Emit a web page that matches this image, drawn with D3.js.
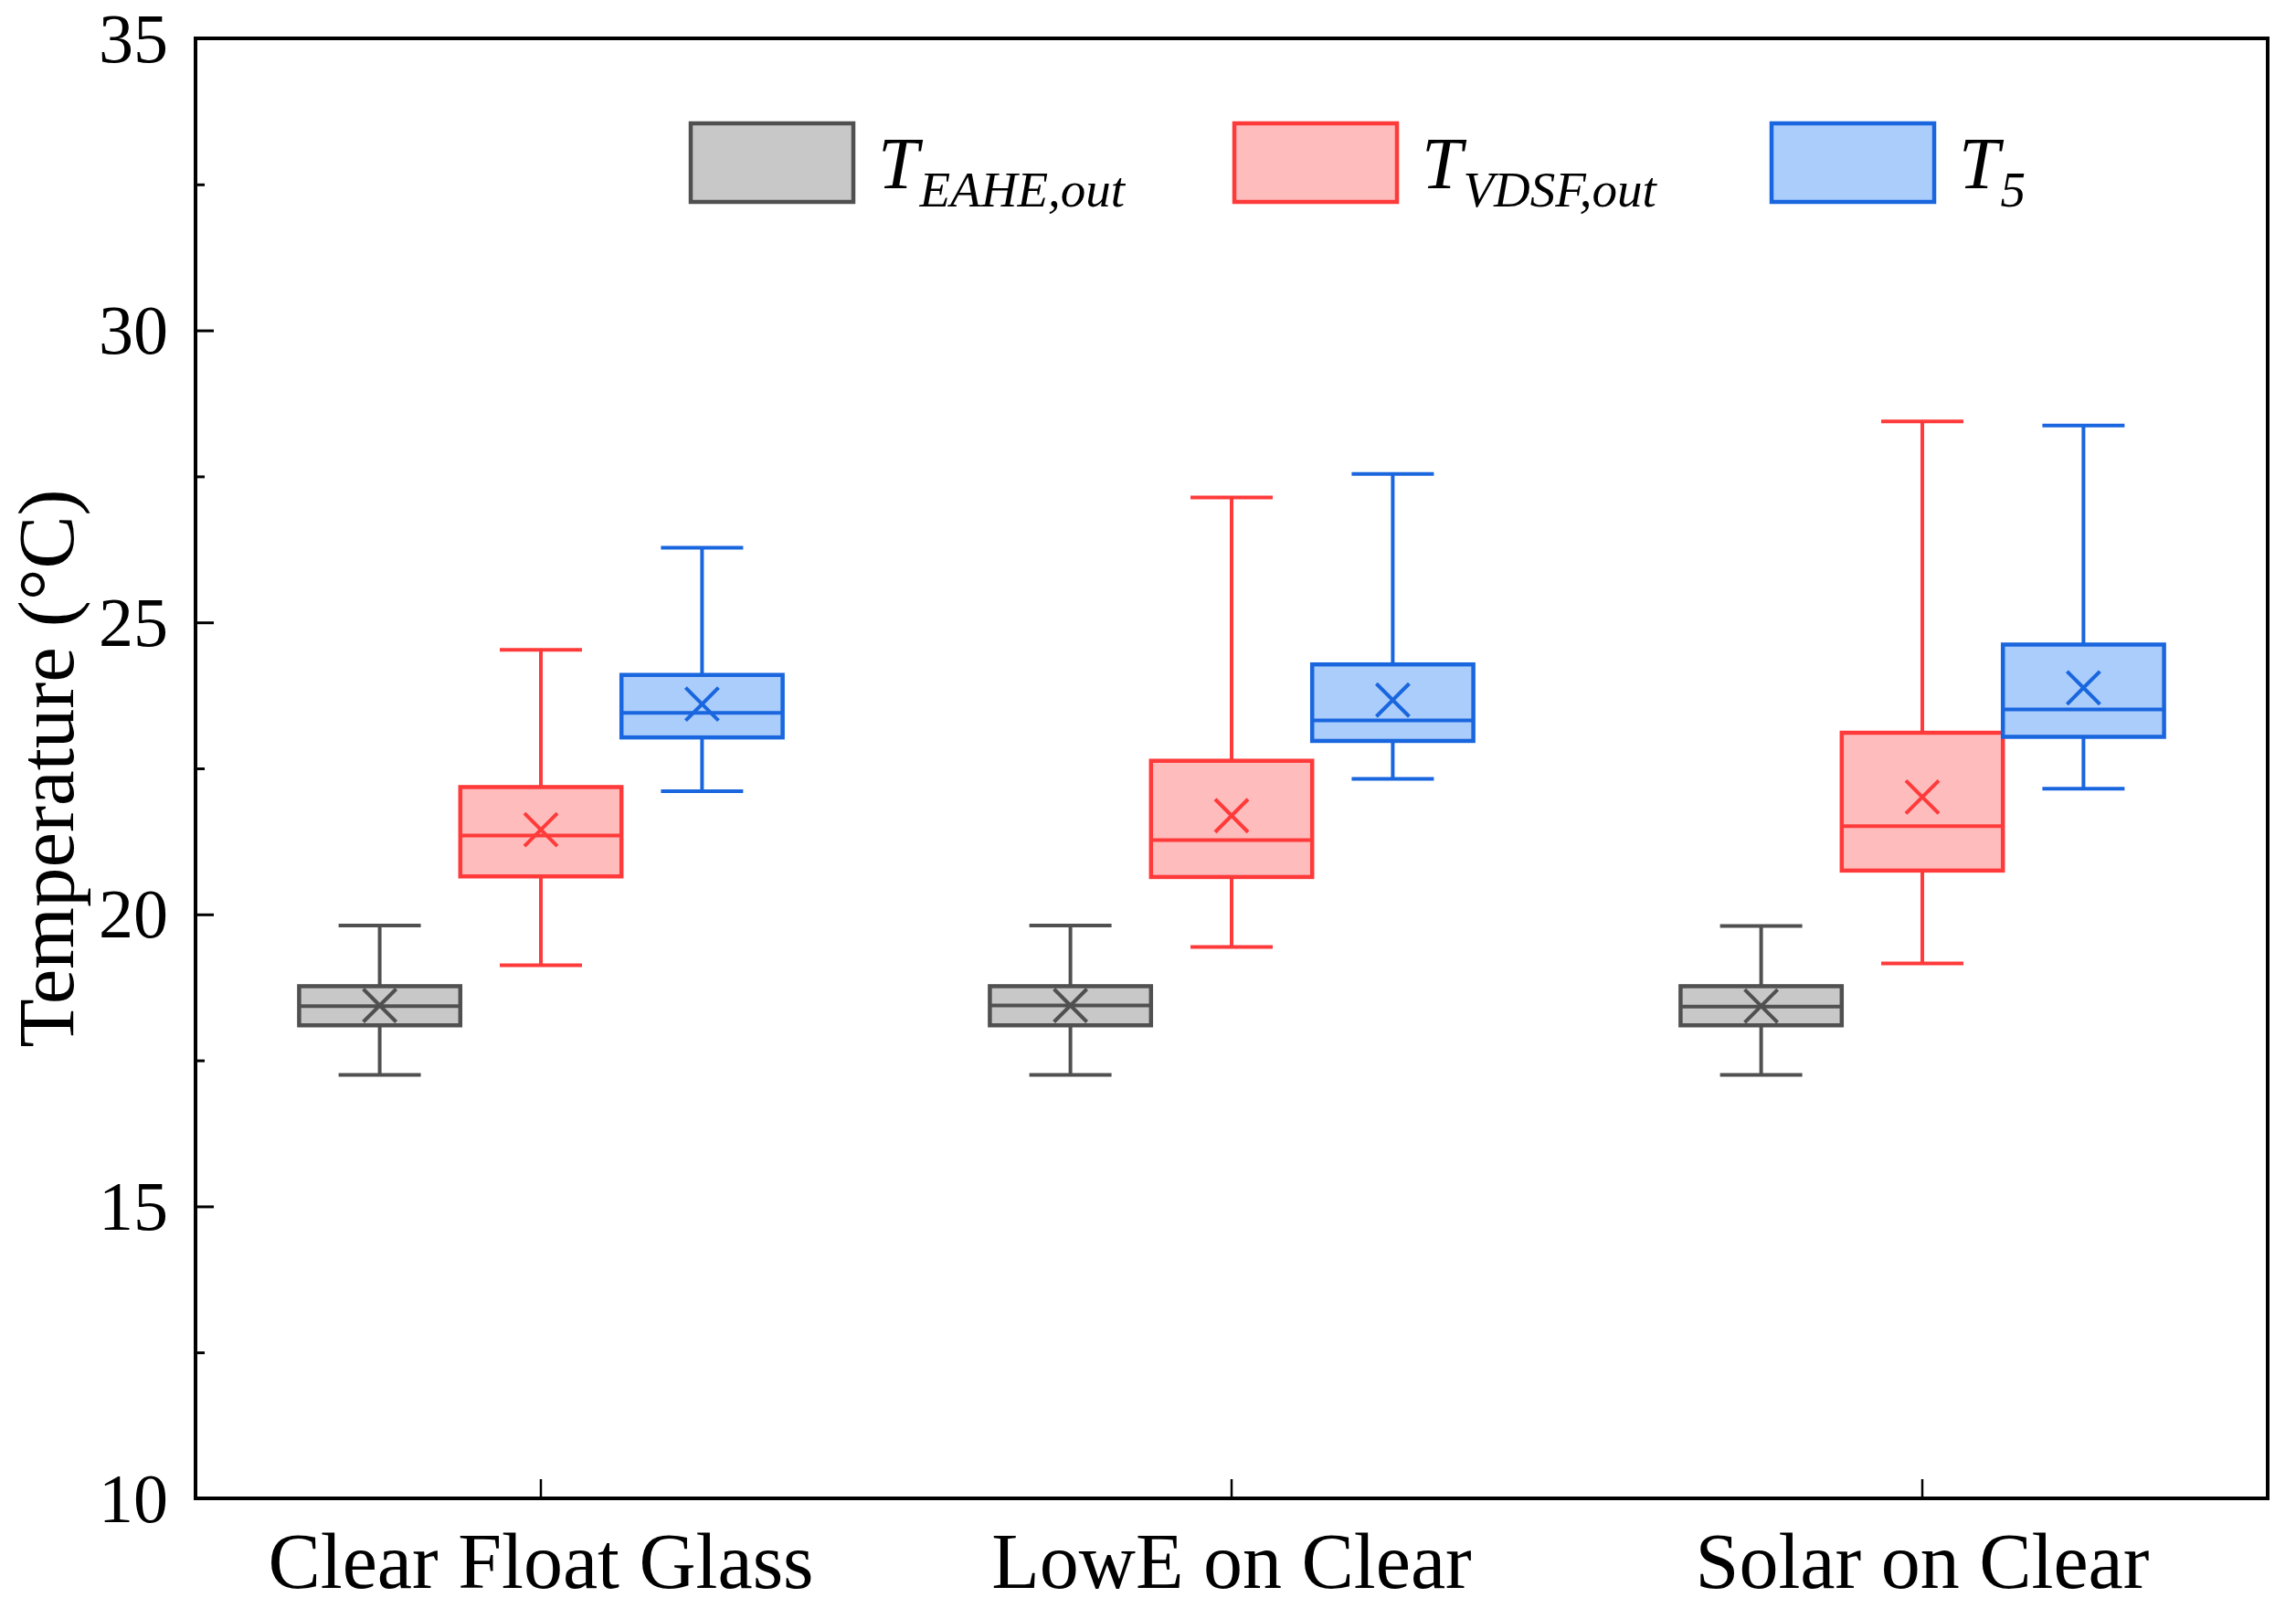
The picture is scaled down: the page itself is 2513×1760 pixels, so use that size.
<!DOCTYPE html>
<html>
<head>
<meta charset="utf-8">
<script src="https://cdn.jsdelivr.net/npm/d3@7"></script>
<style>
  html, body { margin: 0; padding: 0; background: #fff; }
  svg { display: block; }
</style>
</head>
<body>
<svg id="chart" width="2513" height="1760"></svg>
<script>
// ---------- DATA ----------
const categories = ["Clear Float Glass", "LowE on Clear", "Solar on Clear"];
const seriesKeys = ["EAHE", "VDSF", "T5"];
const seriesMain = ["T", "T", "T"];
const seriesSub = ["EAHE,out", "VDSF,out", "5"];

const eaheMin  = [17.25, 17.25, 17.25];
const eaheQ1   = [18.10, 18.10, 18.10];
const eaheMed  = [18.43, 18.44, 18.42];
const eaheQ3   = [18.77, 18.77, 18.77];
const eaheMax  = [19.81, 19.81, 19.80];
const eaheMean = [18.44, 18.44, 18.43];

const vdsfMin  = [19.13, 19.44, 19.16];
const vdsfQ1   = [20.65, 20.64, 20.75];
const vdsfMed  = [21.35, 21.27, 21.51];
const vdsfQ3   = [22.18, 22.63, 23.11];
const vdsfMax  = [24.53, 27.14, 28.44];
const vdsfMean = [21.45, 21.69, 22.01];

const t5Min  = [22.11, 22.32, 22.15];
const t5Q1   = [23.03, 22.97, 23.04];
const t5Med  = [23.45, 23.32, 23.51];
const t5Q3   = [24.10, 24.28, 24.62];
const t5Max  = [26.28, 27.54, 28.37];
const t5Mean = [23.60, 23.67, 23.88];

const yMajorTicks = [10, 15, 20, 25, 30, 35];
const yMinorTicks = [12.5, 17.5, 22.5, 27.5, 32.5];
const yTitle = "Temperature (°C)";

// ---------- STYLE ----------
const strokeColors = ["#505050", "#ff3a3a", "#1966de"];
const fillColors = ["#c8c8c8", "#ffbcbc", "#abcdfc"];
const font = "'Liberation Serif', 'Times New Roman', serif";

const statsBySeries = [
  [eaheMin, eaheQ1, eaheMed, eaheQ3, eaheMax, eaheMean],
  [vdsfMin, vdsfQ1, vdsfMed, vdsfQ3, vdsfMax, vdsfMean],
  [t5Min, t5Q1, t5Med, t5Q3, t5Max, t5Mean]
];

const boxes = [];
categories.forEach((c, ci) => {
  seriesKeys.forEach((s, si) => {
    const st = statsBySeries[si];
    boxes.push({cat: c, key: s, si,
      min: st[0][ci], q1: st[1][ci], med: st[2][ci], q3: st[3][ci], max: st[4][ci], mean: st[5][ci]});
  });
});

// ---------- LAYOUT ----------
const L = 214, R = 2482, T = 42, B = 1640;
const svg = d3.select("#chart");

const y = d3.scaleLinear().domain([10, 35]).range([B, T]);
const x = d3.scaleBand().domain(categories).range([L, R]).padding(0);
const innerW = x.bandwidth() * 0.7;
const xi = d3.scaleBand().domain(seriesKeys).range([-innerW / 2, innerW / 2]).padding(0);
const bw = xi.bandwidth();
const capW = bw * 0.51;
const xSize = 18;
const lw = 4;

// ---------- BOXES ----------
const g = svg.append("g");
const bx = g.selectAll("g.box").data(boxes).join("g")
  .attr("transform", d => `translate(${x(d.cat) + x.bandwidth() / 2 + xi(d.key) + bw / 2},0)`);

bx.append("line").attr("x1", 0).attr("x2", 0)
  .attr("y1", d => y(d.max)).attr("y2", d => y(d.min))
  .attr("stroke", d => strokeColors[d.si]).attr("stroke-width", lw);
bx.append("line").attr("x1", -capW / 2).attr("x2", capW / 2)
  .attr("y1", d => y(d.max)).attr("y2", d => y(d.max))
  .attr("stroke", d => strokeColors[d.si]).attr("stroke-width", lw);
bx.append("line").attr("x1", -capW / 2).attr("x2", capW / 2)
  .attr("y1", d => y(d.min)).attr("y2", d => y(d.min))
  .attr("stroke", d => strokeColors[d.si]).attr("stroke-width", lw);
bx.append("rect").attr("x", -bw / 2).attr("width", bw)
  .attr("y", d => y(d.q3)).attr("height", d => y(d.q1) - y(d.q3))
  .attr("fill", d => fillColors[d.si]).attr("stroke", d => strokeColors[d.si]).attr("stroke-width", 4.5);
bx.append("line").attr("x1", -bw / 2).attr("x2", bw / 2)
  .attr("y1", d => y(d.med)).attr("y2", d => y(d.med))
  .attr("stroke", d => strokeColors[d.si]).attr("stroke-width", lw);
bx.append("path")
  .attr("d", d => {
    const cy = y(d.mean);
    return `M${-xSize},${cy - xSize}L${xSize},${cy + xSize}M${-xSize},${cy + xSize}L${xSize},${cy - xSize}`;
  })
  .attr("stroke", d => strokeColors[d.si]).attr("stroke-width", lw).attr("fill", "none");

// ---------- AXES ----------
const yAxis = d3.axisLeft(y).tickValues(yMajorTicks).tickSize(-20).tickPadding(10).tickFormat(d3.format("d"));
const yg = svg.append("g").attr("transform", `translate(${L},0)`).call(yAxis);
yg.select(".domain").remove();
yg.selectAll(".tick line").attr("stroke", "#000").attr("stroke-width", 3);
yg.selectAll(".tick text").attr("font-family", font).attr("font-size", 76).attr("fill", "#000")
  .attr("x", -30).attr("dy", "0.33em");

const yMinor = d3.axisLeft(y).tickValues(yMinorTicks).tickSize(-10).tickFormat("");
const ym = svg.append("g").attr("transform", `translate(${L},0)`).call(yMinor);
ym.select(".domain").remove();
ym.selectAll(".tick line").attr("stroke", "#000").attr("stroke-width", 3);

const xAxis = d3.axisBottom(x).tickSize(-21).tickPadding(0);
const xg = svg.append("g").attr("transform", `translate(0,${B})`).call(xAxis);
xg.select(".domain").remove();
xg.selectAll(".tick line").attr("stroke", "#000").attr("stroke-width", 2.5);
xg.selectAll(".tick text").attr("font-family", font).attr("font-size", 86).attr("fill", "#000")
  .attr("y", 98).attr("dy", 0);

svg.append("rect").attr("x", L).attr("y", T).attr("width", R - L).attr("height", B - T)
  .attr("fill", "none").attr("stroke", "#000").attr("stroke-width", 4);

svg.append("text")
  .attr("transform", `translate(80,${(T + B) / 2}) rotate(-90)`)
  .attr("text-anchor", "middle")
  .attr("font-family", font).attr("font-size", 87).attr("fill", "#000")
  .text(yTitle);

// ---------- LEGEND ----------
const legBoxW = 178, legBoxH = 86, legY = 135;
const legX = [756, 1351, 1939];
seriesKeys.forEach((k, i) => {
  const lx = legX[i];
  const lg = svg.append("g");
  lg.append("rect").attr("x", lx).attr("y", legY).attr("width", legBoxW).attr("height", legBoxH)
    .attr("fill", fillColors[i]).attr("stroke", strokeColors[i]).attr("stroke-width", 4.5);
  const t = lg.append("text").attr("x", lx + legBoxW + 27).attr("y", 206)
    .attr("font-family", font).attr("font-style", "italic").attr("fill", "#000");
  t.append("tspan").attr("font-size", 80).text(seriesMain[i]);
  t.append("tspan").attr("font-size", 55).attr("dy", 20).attr("dx", 1).text(seriesSub[i]);
});
</script>
</body>
</html>
